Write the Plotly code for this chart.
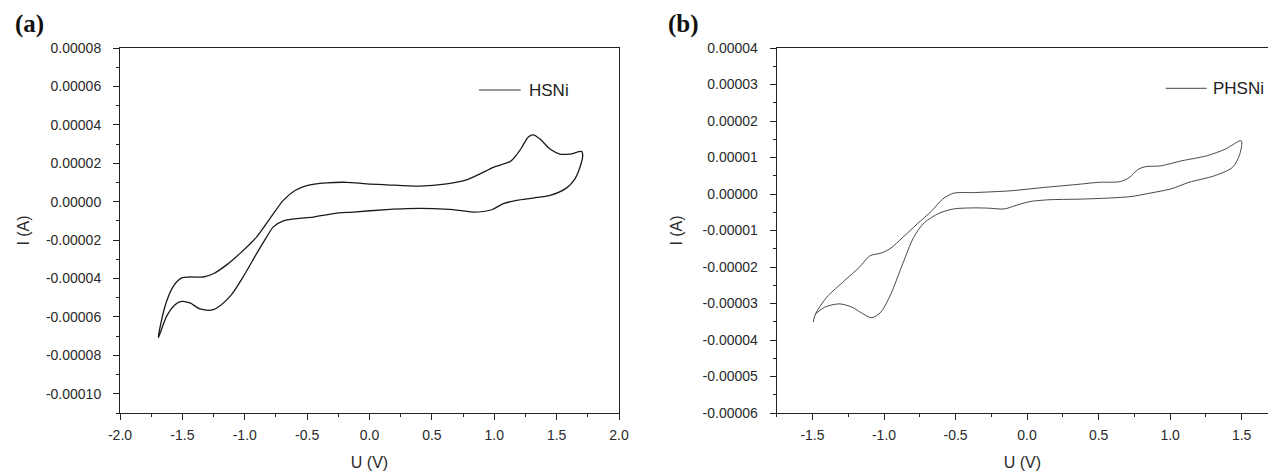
import plotly.graph_objects as go

# ---------------- data (current in units of 1e-5 A) ----------------
I_UNIT = 1e-5

# (a) HSNi – forward (upper) branch
hsni_u_fwd = [-1.693, -1.639, -1.573, -1.505, -1.439, -1.332, -1.252, -1.145, -1.038, -0.904,
              -0.798, -0.691, -0.597, -0.503, -0.343, -0.183, -0.022, 0.138, 0.405, 0.619,
              0.779, 0.886, 0.993, 1.13, 1.18, 1.22, 1.273, 1.313, 1.367, 1.447, 1.527, 1.607, 1.701]
hsni_i_fwd = [-7.08, -5.44, -4.41, -3.97, -3.92, -3.92, -3.75, -3.29, -2.69, -1.83,
              -0.88, 0.07, 0.58, 0.84, 0.98, 1.01, 0.93, 0.88, 0.81, 0.93,
              1.14, 1.45, 1.79, 2.10, 2.45, 2.82, 3.37, 3.48, 3.26, 2.74, 2.48, 2.48, 2.61]
# (a) HSNi – reverse (lower) branch
hsni_u_rev = [1.709, 1.687, 1.647, 1.581, 1.447, 1.313, 1.180, 1.073, 0.98, 0.832,
              0.672, 0.512, 0.298, 0.138, -0.130, -0.290, -0.451, -0.584, -0.691, -0.771,
              -0.824, -0.904, -1.012, -1.118, -1.252, -1.359, -1.439, -1.505, -1.559, -1.626, -1.693]
hsni_i_rev = [2.39, 1.79, 1.19, 0.72, 0.33, 0.19, 0.07, -0.10, -0.42, -0.54,
              -0.41, -0.36, -0.36, -0.41, -0.54, -0.62, -0.80, -0.88, -1.00, -1.31,
              -1.83, -2.69, -3.90, -4.93, -5.62, -5.58, -5.27, -5.19, -5.36, -5.96, -7.08]

# (b) PHSNi – forward (upper) branch
phsni_u_fwd = [-1.495, -1.478, -1.401, -1.275, -1.173, -1.097, -1.021, -0.958, -0.869, -0.768,
               -0.666, -0.590, -0.515, -0.362, -0.109, 0.119, 0.372, 0.499, 0.651, 0.714,
               0.778, 0.829, 0.930, 1.082, 1.259, 1.386, 1.497]
phsni_i_fwd = [-3.51, -3.28, -2.83, -2.37, -2.01, -1.69, -1.62, -1.50, -1.19, -0.82,
               -0.46, -0.14, 0.02, 0.04, 0.09, 0.18, 0.27, 0.32, 0.34, 0.45,
               0.68, 0.75, 0.77, 0.91, 1.05, 1.23, 1.46]
# (b) PHSNi – reverse (lower) branch
phsni_u_rev = [1.487, 1.436, 1.310, 1.132, 1.006, 0.854, 0.727, 0.575, 0.372, 0.144,
               0.017, -0.084, -0.160, -0.261, -0.362, -0.515, -0.616, -0.717, -0.793, -0.869,
               -0.951, -1.021, -1.085, -1.148, -1.224, -1.313, -1.414, -1.478]
phsni_i_rev = [1.09, 0.73, 0.50, 0.32, 0.14, 0.02, -0.07, -0.11, -0.14, -0.16,
               -0.21, -0.32, -0.41, -0.39, -0.38, -0.41, -0.53, -0.78, -1.19, -1.91,
               -2.73, -3.23, -3.39, -3.28, -3.10, -3.01, -3.10, -3.28]

# tick labels
a_xticks = [-2.0, -1.5, -1.0, -0.5, 0.0, 0.5, 1.0, 1.5, 2.0]
a_xticktext = ["-2.0", "-1.5", "-1.0", "-0.5", "0.0", "0.5", "1.0", "1.5", "2.0"]
a_yticks = [-0.00010, -0.00008, -0.00006, -0.00004, -0.00002, 0.0, 0.00002, 0.00004, 0.00006, 0.00008]
a_yticktext = ["-0.00010", "-0.00008", "-0.00006", "-0.00004", "-0.00002", "0.00000",
               "0.00002", "0.00004", "0.00006", "0.00008"]
b_xticks = [-1.5, -1.0, -0.5, 0.0, 0.5, 1.0, 1.5]
b_xticktext = ["-1.5", "-1.0", "-0.5", "0.0", "0.5", "1.0", "1.5"]
b_yticks = [-0.00006, -0.00005, -0.00004, -0.00003, -0.00002, -0.00001, 0.0,
            0.00001, 0.00002, 0.00003, 0.00004]
b_yticktext = ["-0.00006", "-0.00005", "-0.00004", "-0.00003", "-0.00002", "-0.00001",
               "0.00000", "0.00001", "0.00002", "0.00003", "0.00004"]

# ---------------- figure ----------------
W, H = 1268, 473
ML, MR, MT, MB = 0, 0, 48, 60
plot_h = H - MT - MB


def px_x(px):
    return px / W


def px_y(py):
    return (H - MB - py) / plot_h


hsni_u = hsni_u_fwd + hsni_u_rev
hsni_i = [v * I_UNIT for v in hsni_i_fwd + hsni_i_rev]
phsni_u = phsni_u_fwd + phsni_u_rev
phsni_i = [v * I_UNIT for v in phsni_i_fwd + phsni_i_rev]

fig = go.Figure()
fig.add_trace(go.Scatter(x=hsni_u, y=hsni_i, mode="lines", name="HSNi",
                         line=dict(color="#1a1a1a", width=1.3, shape="spline", smoothing=0.8),
                         xaxis="x", yaxis="y", showlegend=False))
fig.add_trace(go.Scatter(x=phsni_u, y=phsni_i, mode="lines", name="PHSNi",
                         line=dict(color="#333333", width=0.9, shape="spline", smoothing=0.8),
                         xaxis="x2", yaxis="y2", showlegend=False))

axis_common = dict(showgrid=False, zeroline=False, showline=True, linecolor="#222222",
                   linewidth=1, ticks="outside", tickcolor="#222222", tickwidth=1,
                   ticklen=6, tickfont=dict(size=14, color="#2a2a2a"), automargin=False)

fig.update_layout(
    width=W, height=H,
    margin=dict(l=ML, r=MR, t=MT, b=MB, autoexpand=False),
    paper_bgcolor="white", plot_bgcolor="white",
    font=dict(family="Liberation Sans, Arial, sans-serif", size=14, color="#2a2a2a"),
    xaxis=dict(domain=[px_x(120), px_x(619)], range=[-2, 2], anchor="y", mirror=True,
               tickmode="array", tickvals=a_xticks, ticktext=a_xticktext, ticklabelstandoff=3,
               minor=dict(ticks="outside", ticklen=3, tickcolor="#222222", dtick=0.25, tick0=0),
               title=dict(text="U (V)", font=dict(size=16), standoff=15),
               **axis_common),
    yaxis=dict(domain=[0, 1], range=[-0.00011, 0.00008], anchor="x", mirror=True,
               tickmode="array", tickvals=a_yticks, ticktext=a_yticktext, ticklabelstandoff=9,
               minor=dict(ticks="outside", ticklen=3, tickcolor="#222222", dtick=0.00001, tick0=0),
               title=dict(text="I (A)", font=dict(size=16), standoff=12),
               **axis_common),
    xaxis2=dict(domain=[px_x(776.7), 1.0], range=[-1.75, 1.684], anchor="y2", mirror=True,
                tickmode="array", tickvals=b_xticks, ticktext=b_xticktext, ticklabelstandoff=3,
                minor=dict(ticks="outside", ticklen=3, tickcolor="#222222", dtick=0.25, tick0=0),
                title=dict(text="U (V)", font=dict(size=16), standoff=15),
                **axis_common),
    yaxis2=dict(domain=[0, 1], range=[-0.00006, 0.00004], anchor="x2", mirror=False,
                tickmode="array", tickvals=b_yticks, ticktext=b_yticktext, ticklabelstandoff=9,
                minor=dict(ticks="outside", ticklen=3, tickcolor="#222222", dtick=0.000005, tick0=0),
                title=dict(text="I (A)", font=dict(size=16), standoff=16),
                **axis_common),
    showlegend=False,
)

# panel labels
for txt, xpx in [("(a)", 13), ("(b)", 666)]:
    fig.add_annotation(text=f"<b>{txt}</b>", xref="paper", yref="paper",
                       x=px_x(xpx), y=px_y(24), xanchor="left", yanchor="middle",
                       showarrow=False,
                       font=dict(family="Liberation Serif, Times New Roman, serif", size=25,
                                 color="#111111"))

# legend samples
for (x0, x1, ypx, tx, label, lw) in [(479, 520.7, 90, 527, "HSNi", 1.2),
                                      (1165.7, 1206.7, 88.3, 1211, "PHSNi", 0.9)]:
    fig.add_shape(type="line", xref="paper", yref="paper",
                  x0=px_x(x0), x1=px_x(x1), y0=px_y(ypx), y1=px_y(ypx),
                  line=dict(color="#333333", width=lw))
    fig.add_annotation(text=label, xref="paper", yref="paper", x=px_x(tx), y=px_y(ypx),
                       xanchor="left", yanchor="middle", showarrow=False,
                       font=dict(size=17, color="#222222"))

fig.write_html("out.html", config={"displayModeBar": False},
               post_script="document.body.style.margin='0';document.body.style.overflow='hidden';")
